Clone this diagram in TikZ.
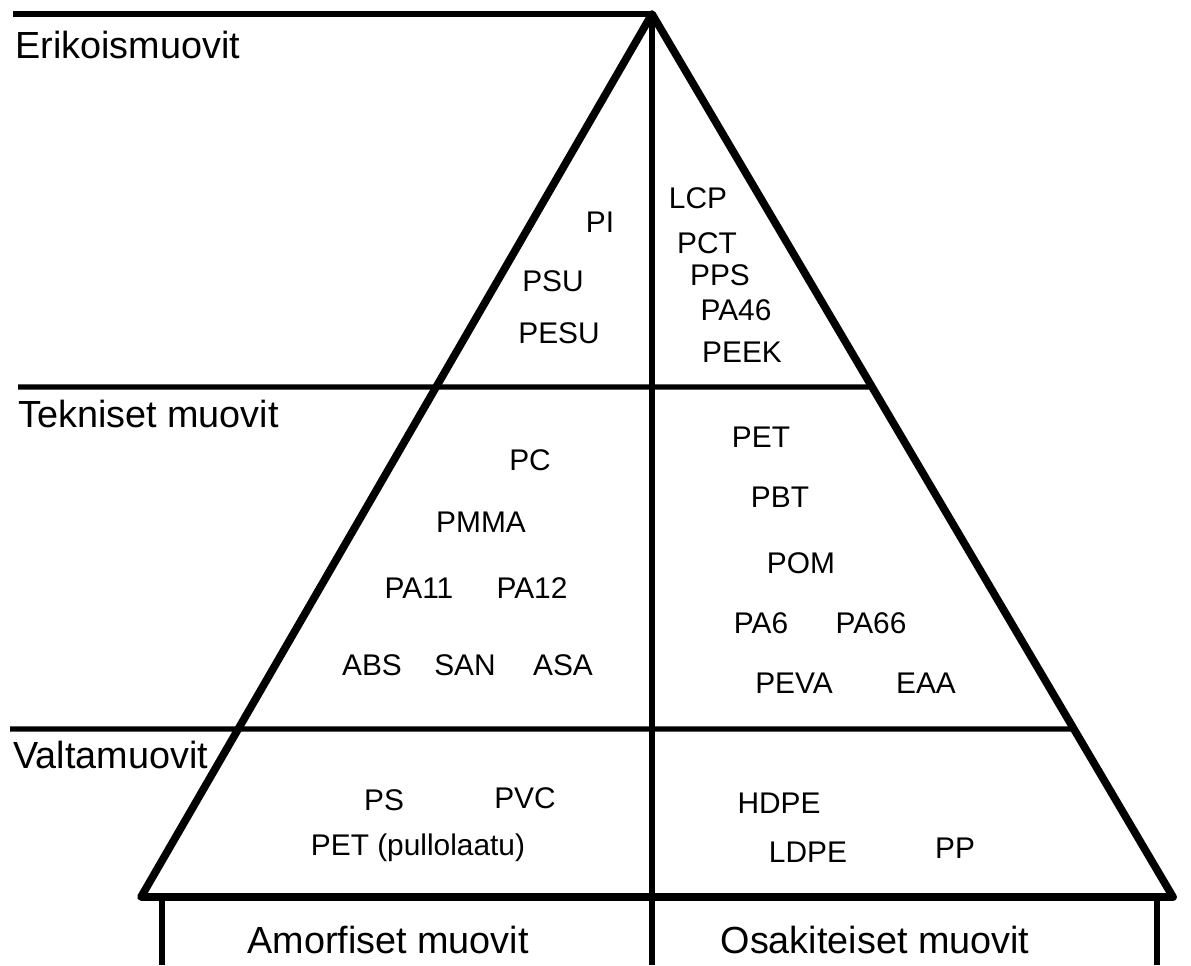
\documentclass[tikz,border=0pt]{standalone}
\usepackage{fontspec}
\setmainfont{Liberation Sans}
\usetikzlibrary{positioning,calc}

\begin{document}
\begin{tikzpicture}[x=0.02cm, y=-0.02cm,
    edge/.style={line width=4.4pt, line join=round, line cap=round},
    divider/.style={line width=3pt},
    group/.style={font=\fontsize{21.5}{25}\selectfont, anchor=west, inner sep=0pt},
    column/.style={font=\fontsize{21.5}{25}\selectfont, inner sep=0pt},
    polymer/.style={font=\fontsize{17}{20}\selectfont, inner sep=0pt}]
    \useasboundingbox (0,0) rectangle (1191,965);

    % Corners of the pyramid
    \coordinate (apex) at (652,14);
    \coordinate (left) at (141,897);
    \coordinate (right) at (1173,897);
    \coordinate (foot) at (652,965);

    % Level lines, running out to the labels on the left
    \coordinate (top start) at (13,14);
    \coordinate (mid start) at (18,387);
    \coordinate (low start) at (10,729);
    \coordinate (mid end) at ($(apex)!0.4224!(right)$);
    \coordinate (low end) at ($(apex)!0.8097!(right)$);
    \draw[divider] (top start) -- (apex);
    \draw[divider] (mid start) -- (mid end);
    \draw[divider] (low start) -- (low end);

    % Centre line and table below the base
    \draw[divider] (apex) -- (foot);
    \draw[divider] (162,897) -- (162,965);
    \draw[divider] (1157,897) -- (1157,965);

    % Pyramid
    \draw[edge] (apex) -- (left) -- (right) -- cycle;

    % Level names
    \node[group] (erikois) at (15,45) {Erikoismuovit};
    \node[group] (tekniset) at (18,414) {Tekniset muovit};
    \node[group] (valta) at (13,755) {Valtamuovit};

    % Special plastics
    \node[polymer] (pi) at (600,222) {PI};
    \node[polymer] (psu) at (553,281) {PSU};
    \node[polymer] (pesu) at (559,333) {PESU};
    \node[polymer] (lcp) at (698,198) {LCP};
    \node[polymer] (pct) at (707,243) {PCT};
    \node[polymer] (pps) at (720,275) {PPS};
    \node[polymer] (pa46) at (736,310) {PA46};
    \node[polymer] (peek) at (742,352) {PEEK};

    % Engineering plastics
    \node[polymer] (pc) at (530,460) {PC};
    \node[polymer] (pmma) at (481,522) {PMMA};
    \node[polymer] (pa11) at (419,588) {PA11};
    \node[polymer] (pa12) at (532,588) {PA12};
    \node[polymer] (abs) at (372,665) {ABS};
    \node[polymer] (san) at (465,665) {SAN};
    \node[polymer] (asa) at (563,665) {ASA};
    \node[polymer] (pet) at (761,437) {PET};
    \node[polymer] (pbt) at (780,497) {PBT};
    \node[polymer] (pom) at (801,563) {POM};
    \node[polymer] (pa6) at (761,623) {PA6};
    \node[polymer] (pa66) at (871,623) {PA66};
    \node[polymer] (peva) at (794,683) {PEVA};
    \node[polymer] (eaa) at (926,683) {EAA};

    % Commodity plastics
    \node[polymer] (ps) at (384,800) {PS};
    \node[polymer] (pvc) at (525,798) {PVC};
    \node[polymer] (petb) at (418,848) {PET (pullolaatu)};
    \node[polymer] (hdpe) at (779,803) {HDPE};
    \node[polymer] (ldpe) at (808,852) {LDPE};
    \node[polymer] (pp) at (955,848) {PP};

    % Column names
    \node[column] (amorf) at (388,940) {Amorfiset muovit};
    \node[column] (osakit) at (875,940) {Osakiteiset muovit};
\end{tikzpicture}
\end{document}
